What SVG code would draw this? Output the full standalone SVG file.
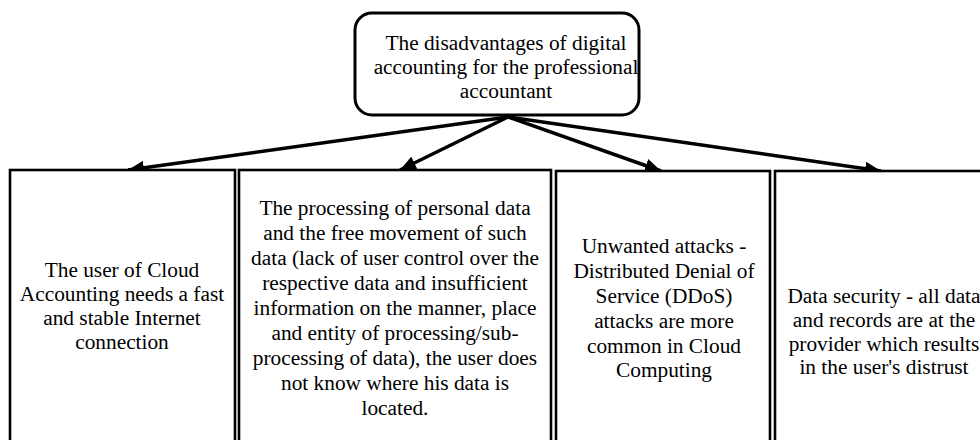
<svg xmlns="http://www.w3.org/2000/svg" width="980" height="440" viewBox="0 0 980 440">
<style>
  text { font-family: "Liberation Serif", "Times New Roman", serif; font-size: 21.33px; fill: #000; text-anchor: middle; }
  .box { fill: #fff; stroke: #000; stroke-width: 2.6; }
  .top { fill: #fff; stroke: #000; stroke-width: 3; }
  .conn { stroke: #000; stroke-width: 3.5; fill: none; marker-end: url(#arr); }
</style>
<defs>
  <marker id="arr" markerUnits="userSpaceOnUse" markerWidth="18" markerHeight="14" refX="16" refY="7" orient="auto">
    <path d="M0,0 L16,7 L0,14 z" fill="#000"/>
  </marker>
</defs>
<rect width="980" height="440" fill="#fff"/>
<g id="root">
  <rect class="top" x="355" y="13" width="284" height="102" rx="17" ry="17"/>
  <text x="506" y="50">The disadvantages of digital</text>
  <text x="506" y="74">accounting for the professional</text>
  <text x="506" y="98">accountant</text>
</g>
<g id="connectors">
  <line class="conn" x1="508" y1="117" x2="128" y2="170"/>
  <line class="conn" x1="508" y1="117" x2="400" y2="170"/>
  <line class="conn" x1="508" y1="117" x2="661" y2="171"/>
  <line class="conn" x1="508" y1="117" x2="881" y2="171"/>
</g>
<g id="box1">
  <rect class="box" x="10" y="170" width="225" height="280"/>
  <text x="122" y="277">The user of Cloud</text>
  <text x="122" y="301">Accounting needs a fast</text>
  <text x="122" y="325">and stable Internet</text>
  <text x="122" y="349">connection</text>
</g>
<g id="box2">
  <rect class="box" x="239" y="170" width="312" height="280"/>
  <text x="395" y="215">The processing of personal data</text>
  <text x="395" y="240">and the free movement of such</text>
  <text x="395" y="265">data (lack of user control over the</text>
  <text x="395" y="290">respective data and insufficient</text>
  <text x="395" y="315">information on the manner, place</text>
  <text x="395" y="340">and entity of processing/sub-</text>
  <text x="395" y="365">processing of data), the user does</text>
  <text x="395" y="390">not know where his data is</text>
  <text x="395" y="415">located.</text>
</g>
<g id="box3">
  <rect class="box" x="556" y="171" width="214" height="280"/>
  <text x="664" y="253">Unwanted attacks -</text>
  <text x="664" y="278">Distributed Denial of</text>
  <text x="664" y="303">Service (DDoS)</text>
  <text x="664" y="328">attacks are more</text>
  <text x="664" y="353">common in Cloud</text>
  <text x="664" y="377">Computing</text>
</g>
<g id="box4">
  <rect class="box" x="775" y="171" width="220" height="280"/>
  <text x="884" y="303">Data security - all data</text>
  <text x="884" y="327">and records are at the</text>
  <text x="884" y="351">provider which results</text>
  <text x="884" y="374">in the user's distrust</text>
</g>
</svg>
